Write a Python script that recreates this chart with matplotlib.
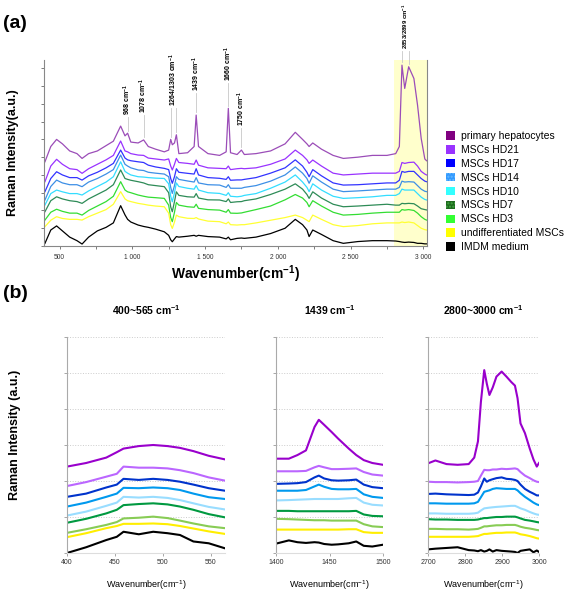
import matplotlib
matplotlib.use('Agg')
import matplotlib.pyplot as plt
from matplotlib.patches import Patch

plt.rcParams['font.family'] = ['Liberation Sans', 'DejaVu Sans']
plt.rcParams['mathtext.fontset'] = 'custom'
plt.rcParams['mathtext.rm'] = 'Liberation Sans'
plt.rcParams['mathtext.it'] = 'Liberation Sans:italic'
plt.rcParams['mathtext.bf'] = 'Liberation Sans:bold'

# ---------------- data ----------------
SAMPLES = ['primary hepatocytes', 'MSCs HD21', 'MSCs HD17', 'MSCs HD14', 'MSCs HD10',
           'MSCs HD7', 'MSCs HD3', 'undifferentiated MSCs', 'IMDM medium']

# panel (a): full spectra, stacked (arbitrary units)
WN_A = [400, 440, 480, 520, 570, 620, 655, 700, 760, 820, 870, 920, 950, 968, 990, 1040, 1078,
        1110, 1160, 1220, 1250, 1264, 1275, 1290, 1303, 1320, 1380, 1425, 1439, 1455, 1520, 1600,
        1645, 1660, 1675, 1720, 1750, 1770, 1850, 1950, 2050, 2120, 2170, 2200, 2215, 2240, 2300,
        2380, 2450, 2550, 2650, 2750, 2810, 2835, 2853, 2872, 2899, 2935, 2960, 2985, 3010, 3022]

hep_a = [4.74, 5.6, 6.0, 5.75, 5.35, 5.2, 4.93, 5.2, 5.35, 5.65, 5.9, 6.75, 6.2, 6.35, 5.85, 5.8, 5.97,
         5.6, 5.45, 5.3, 5.4, 6.0, 5.7, 5.8, 6.26, 5.2, 5.25, 5.6, 7.37, 5.6, 5.2, 5.1,
         5.3, 7.75, 5.25, 5.15, 5.4, 5.15, 5.2, 5.35, 5.75, 6.4, 6.0, 5.75, 5.6, 5.8, 5.45,
         5.1, 4.93, 5.0, 5.1, 5.1, 5.2, 5.6, 10.18, 8.87, 10.09, 9.43, 7.93, 6.06, 4.9, 4.8]
hd21_a = [3.62, 4.5, 4.88, 4.6, 4.35, 4.3, 4.09, 4.35, 4.6, 4.85, 5.1, 5.91, 5.35, 5.3, 5.2, 5.12, 5.1,
          4.95, 4.9, 4.84, 4.9, 4.5, 4.28, 4.6, 4.93, 4.7, 4.65, 4.6, 4.84, 4.55, 4.4, 4.37,
          4.35, 4.5, 4.3, 4.35, 4.37, 4.35, 4.4, 4.6, 4.9, 5.4, 5.1, 4.85, 4.65, 4.84, 4.5,
          4.1, 4.0, 4.05, 4.1, 4.1, 4.1, 4.2, 4.7, 4.65, 4.7, 4.72, 4.5, 4.2, 4.05, 4.0]
hd17_a = [3.06, 3.8, 4.18, 4.0, 3.85, 3.85, 3.71, 3.95, 4.15, 4.4, 4.65, 5.4, 4.95, 4.85, 4.8, 4.74, 4.7,
          4.55, 4.45, 4.37, 4.3, 3.8, 3.53, 3.9, 4.35, 4.15, 4.09, 4.05, 4.35, 4.0, 3.85, 3.81,
          3.75, 3.9, 3.7, 3.72, 3.72, 3.75, 3.85, 4.1, 4.4, 4.85, 4.5, 4.15, 3.9, 4.3, 3.95,
          3.55, 3.43, 3.45, 3.5, 3.55, 3.55, 3.7, 4.2, 4.15, 4.2, 4.2, 4.0, 3.8, 3.65, 3.62]
hd14_a = [2.59, 3.35, 3.71, 3.55, 3.45, 3.45, 3.34, 3.6, 3.8, 4.05, 4.3, 5.12, 4.6, 4.5, 4.4, 4.28, 4.25,
          4.15, 4.1, 4.05, 3.9, 3.3, 2.96, 3.4, 3.9, 3.75, 3.66, 3.6, 3.85, 3.55, 3.45, 3.43,
          3.3, 3.45, 3.25, 3.25, 3.25, 3.3, 3.4, 3.65, 4.0, 4.45, 4.1, 3.8, 3.53, 3.95, 3.6,
          3.2, 3.06, 3.1, 3.15, 3.2, 3.2, 3.3, 3.65, 3.6, 3.62, 3.6, 3.4, 3.2, 3.08, 3.06]
hd10_a = [2.31, 2.95, 3.15, 3.05, 2.95, 2.95, 2.87, 3.1, 3.35, 3.6, 3.9, 4.74, 4.2, 4.1, 4.0, 3.9, 3.88,
          3.85, 3.82, 3.8, 3.5, 2.8, 2.49, 3.0, 3.55, 3.35, 3.25, 3.2, 3.4, 3.15, 3.0, 2.96,
          2.85, 3.0, 2.8, 2.77, 2.8, 2.85, 2.95, 3.25, 3.6, 4.0, 3.6, 3.3, 3.06, 3.5, 3.15,
          2.8, 2.68, 2.72, 2.77, 2.85, 2.85, 2.95, 3.2, 3.15, 3.15, 3.15, 2.95, 2.75, 2.62, 2.59]
hd7_a = [1.93, 2.55, 2.77, 2.65, 2.55, 2.5, 2.4, 2.65, 2.9, 3.15, 3.45, 4.28, 3.8, 3.75, 3.7, 3.62, 3.55,
         3.45, 3.4, 3.34, 3.0, 2.2, 1.93, 2.5, 3.05, 2.85, 2.77, 2.75, 2.95, 2.7, 2.6, 2.59,
         2.5, 2.65, 2.45, 2.49, 2.5, 2.55, 2.65, 2.9, 3.2, 3.5, 3.2, 2.9, 2.68, 3.05, 2.7,
         2.35, 2.21, 2.25, 2.3, 2.35, 2.3, 2.3, 2.4, 2.38, 2.4, 2.38, 2.25, 2.1, 2.05, 2.03]
hd3_a = [1.46, 1.9, 2.07, 1.95, 1.85, 1.85, 1.74, 2.0, 2.25, 2.5, 2.8, 3.62, 3.15, 3.05, 3.0, 2.87, 2.8,
         2.75, 2.72, 2.68, 2.3, 1.6, 1.37, 1.9, 2.45, 2.3, 2.21, 2.18, 2.35, 2.12, 2.05, 2.02,
         1.9, 2.05, 1.85, 1.84, 1.86, 1.9, 2.05, 2.25, 2.6, 2.9, 2.7, 2.45, 2.21, 2.55, 2.25,
         1.9, 1.74, 1.78, 1.85, 1.9, 1.9, 1.9, 2.05, 2.02, 2.05, 2.0, 1.85, 1.65, 1.5, 1.46]
undiff_a = [1.09, 1.45, 1.65, 1.55, 1.5, 1.5, 1.46, 1.65, 1.85, 2.05, 2.35, 3.06, 2.65, 2.55, 2.5, 2.4, 2.35,
            2.3, 2.25, 2.21, 1.85, 1.2, 0.99, 1.35, 1.74, 1.65, 1.56, 1.55, 1.6, 1.52, 1.4, 1.37,
            1.25, 1.35, 1.2, 1.18, 1.2, 1.2, 1.3, 1.45, 1.6, 1.74, 1.6, 1.45, 1.37, 1.74, 1.5,
            1.2, 1.09, 1.15, 1.25, 1.3, 1.3, 1.3, 1.35, 1.32, 1.35, 1.3, 1.15, 1.0, 0.92, 0.9]
imdm_a = [0.15, 0.9, 1.13, 0.85, 0.5, 0.3, 0.11, 0.5, 0.85, 1.05, 1.3, 2.27, 1.75, 1.5, 1.35, 1.18, 1.1,
          1.05, 0.95, 0.8, 0.6, 0.35, 0.24, 0.4, 0.53, 0.5, 0.55, 0.6, 0.55, 0.6, 0.53, 0.5,
          0.4, 0.5, 0.35, 0.43, 0.45, 0.43, 0.5, 0.7, 1.0, 1.5, 1.2, 0.9, 0.53, 0.9, 0.65,
          0.3, 0.15, 0.25, 0.3, 0.3, 0.28, 0.25, 0.22, 0.2, 0.22, 0.2, 0.15, 0.15, 0.12, 0.12]

SPECTRA_A = [hep_a, hd21_a, hd17_a, hd14_a, hd10_a, hd7_a, hd3_a, undiff_a, imdm_a]

PEAK_TEXT = ['968', '1078', '1264/1303', '1439', '1660', '1750', '2853/2899']
PEAK_WN = [[968], [1078], [1264, 1303], [1439], [1660], [1750], [2853, 2899]]

XTICKS_A = [500, 1000, 1500, 2000, 2500, 3000]
XTICKLABELS_A = ['500', '1 000', '1 500', '2 000', '2 500', '3 000']

# panel (b): zoomed windows
WN_B1 = [400, 420, 441, 452, 459, 475, 490, 505, 518, 532, 548, 565]
b1 = [
    [2.40, 2.5, 2.65, 2.8, 2.9, 2.97, 3.0, 2.97, 2.92, 2.83, 2.7, 2.6],
    [1.86, 1.97, 2.12, 2.2, 2.4, 2.37, 2.37, 2.35, 2.3, 2.22, 2.1, 2.01],
    [1.56, 1.65, 1.82, 1.9, 2.06, 2.03, 2.06, 2.03, 1.98, 1.9, 1.8, 1.73],
    [1.29, 1.4, 1.56, 1.65, 1.81, 1.8, 1.82, 1.8, 1.75, 1.65, 1.55, 1.5],
    [1.04, 1.15, 1.31, 1.4, 1.56, 1.54, 1.56, 1.53, 1.47, 1.38, 1.28, 1.21],
    [0.84, 0.95, 1.1, 1.2, 1.33, 1.36, 1.38, 1.35, 1.29, 1.2, 1.08, 0.99],
    [0.56, 0.66, 0.78, 0.86, 0.96, 0.98, 1.01, 0.97, 0.9, 0.82, 0.74, 0.69],
    [0.44, 0.55, 0.69, 0.75, 0.81, 0.81, 0.82, 0.8, 0.75, 0.68, 0.6, 0.53],
    [0.0, 0.16, 0.36, 0.45, 0.59, 0.52, 0.59, 0.55, 0.5, 0.32, 0.27, 0.13],
]

WN_B2 = [1400, 1412, 1420, 1428, 1436, 1440, 1445, 1452, 1458, 1468, 1475, 1482, 1490, 1500]
b2 = [
    [2.62, 2.62, 2.72, 2.85, 3.5, 3.7, 3.56, 3.36, 3.18, 2.9, 2.72, 2.58, 2.5, 2.45],
    [2.27, 2.27, 2.27, 2.28, 2.38, 2.42, 2.38, 2.33, 2.33, 2.34, 2.35, 2.25, 2.18, 2.15],
    [1.92, 1.93, 1.94, 1.97, 2.1, 2.15, 2.07, 2.02, 2.01, 2.02, 2.04, 1.9, 1.83, 1.8],
    [1.73, 1.73, 1.73, 1.75, 1.85, 1.9, 1.84, 1.78, 1.77, 1.77, 1.78, 1.63, 1.56, 1.53],
    [1.46, 1.47, 1.48, 1.49, 1.5, 1.5, 1.5, 1.5, 1.5, 1.52, 1.53, 1.4, 1.34, 1.32],
    [1.17, 1.17, 1.16, 1.16, 1.16, 1.16, 1.16, 1.16, 1.16, 1.16, 1.17, 1.07, 1.03, 1.02],
    [0.95, 0.94, 0.93, 0.92, 0.91, 0.91, 0.91, 0.9, 0.9, 0.9, 0.9, 0.8, 0.74, 0.72],
    [0.65, 0.65, 0.65, 0.65, 0.65, 0.65, 0.65, 0.65, 0.65, 0.66, 0.66, 0.58, 0.56, 0.56],
    [0.26, 0.35, 0.3, 0.28, 0.3, 0.29, 0.25, 0.23, 0.24, 0.27, 0.32, 0.2, 0.18, 0.23],
]

WN_B3 = [2700, 2720, 2750, 2780, 2810, 2825, 2835, 2843, 2852, 2859, 2866, 2875, 2885, 2899, 2912,
         2925, 2935, 2942, 2950, 2962, 2975, 2985, 2994, 3000]
b3 = [
    [2.49, 2.57, 2.47, 2.45, 2.47, 2.65, 3.1, 4.2, 5.08, 4.7, 4.39, 4.6, 4.9, 5.04, 4.9,
     4.75, 4.65, 4.3, 3.6, 3.33, 2.9, 2.6, 2.4, 2.5],
    [1.98, 1.97, 1.97, 1.96, 1.97, 1.98, 2.0, 2.15, 2.31, 2.3, 2.3, 2.32, 2.32, 2.34, 2.33,
     2.34, 2.35, 2.33, 2.25, 2.15, 2.08, 2.02, 1.98, 1.97],
    [1.64, 1.65, 1.63, 1.62, 1.61, 1.62, 1.68, 1.85, 2.07, 1.98, 2.02, 2.05, 2.08, 2.1, 2.06,
     2.05, 2.03, 2.0, 1.9, 1.78, 1.7, 1.65, 1.6, 1.6],
    [1.38, 1.38, 1.37, 1.37, 1.37, 1.38, 1.42, 1.55, 1.7, 1.72, 1.74, 1.78, 1.8, 1.79, 1.78,
     1.78, 1.78, 1.74, 1.66, 1.56, 1.47, 1.4, 1.35, 1.33],
    [1.1, 1.1, 1.09, 1.09, 1.09, 1.1, 1.12, 1.18, 1.24, 1.25, 1.26, 1.27, 1.28, 1.29, 1.3,
     1.31, 1.31, 1.28, 1.24, 1.2, 1.14, 1.1, 1.07, 1.06],
    [0.94, 0.93, 0.93, 0.92, 0.92, 0.92, 0.93, 0.95, 0.97, 0.97, 0.98, 0.99, 1.0, 1.0, 1.01,
     1.01, 1.01, 0.99, 0.96, 0.92, 0.9, 0.88, 0.86, 0.85],
    [0.67, 0.67, 0.66, 0.66, 0.65, 0.66, 0.67, 0.7, 0.74, 0.74, 0.75, 0.76, 0.77, 0.77, 0.78,
     0.78, 0.78, 0.76, 0.73, 0.7, 0.68, 0.66, 0.64, 0.63],
    [0.45, 0.45, 0.45, 0.45, 0.45, 0.46, 0.47, 0.5, 0.53, 0.53, 0.54, 0.55, 0.56, 0.56, 0.57,
     0.57, 0.57, 0.55, 0.52, 0.5, 0.47, 0.44, 0.41, 0.4],
    [0.1, 0.12, 0.14, 0.16, 0.08, 0.07, 0.05, 0.08, 0.04, 0.06, 0.1, 0.04, 0.08, 0.06, 0.05,
     0.04, 0.03, 0.0, 0.06, 0.08, 0.1, 0.02, 0.07, 0.03],
]

WINDOW_TITLES = ['400~565', '1439', '2800~3000']
WINDOW_XLIM = [(400, 565), (1400, 1500), (2700, 3000)]
WINDOW_XTICKS = [[400, 450, 500, 550], [1400, 1450, 1500], [2700, 2800, 2900, 3000]]

# ---------------- style ----------------
COLORS_A = ['#9b4db8', '#9933ff', '#3333ff', '#3d8fe6', '#33ddff', '#2e8b57', '#33dd33', '#ffff33', '#000000']
LEGEND_COLORS = ['#800080', '#9933ff', '#0000ff', '#3399ff', '#33ffff', '#1e6b1e', '#33ff33', '#ffff00', '#000000']
COLORS_B = ['#9900cc', '#bb66ff', '#0033cc', '#0099ee', '#99ddff', '#009940', '#88cc55', '#ffee00', '#000000']
LABEL_TOP = [7.26, 7.37, 7.77, 8.6, 9.17, 6.64, 11.0]
LABEL_SIZE = [5, 5, 5, 5, 5, 5, 4.3]
CM = r' cm$^{\mathbf{-1}}$'

W, H = 567, 591
fig = plt.figure(figsize=(W / 100, H / 100), dpi=100)


def box(x0, y0, x1, y1):
    return [x0 / W, 1 - y1 / H, (x1 - x0) / W, (y1 - y0) / H]


# ---------------- panel (a) ----------------
ax = fig.add_axes(box(43.5, 60, 427, 246))
ax.axvspan(2800, 3025, color='#ffffcc', zorder=0, lw=0)
for vals, c in zip(SPECTRA_A, COLORS_A):
    ax.plot(WN_A, vals, color=c, lw=0.9, zorder=2)

hep = dict(zip(WN_A, hep_a))
for txt, wns, top, fs in zip(PEAK_TEXT, PEAK_WN, LABEL_TOP, LABEL_SIZE):
    for wn in wns:
        ax.plot([wn, wn], [hep[wn] + 0.15, top], color='#c8c8c8', lw=0.6, zorder=1, clip_on=False)
    xm = sum(wns) / len(wns)
    ax.text(xm, top + 0.1, txt + CM, rotation=90, ha='center', va='bottom', fontsize=fs,
            fontweight='bold', clip_on=False)

ax.set_xlim(390, 3025)
ax.set_ylim(0, 10.47)
ax.set_xticks(XTICKS_A)
ax.set_xticklabels(XTICKLABELS_A, fontsize=4.8, color='#333333')
ax.set_xticks([750, 1250, 1750, 2250, 2750], minor=True)
ax.set_yticks(range(11))
ax.set_yticklabels([])
ax.tick_params(axis='both', which='both', length=2.5, width=0.6, color='#666666', pad=3)
ax.spines['top'].set_visible(False)
for s in ['left', 'bottom', 'right']:
    ax.spines[s].set_color('#888888')
    ax.spines[s].set_linewidth(0.8)
ax.set_xlabel('Wavenumber(cm$^{\\mathbf{-1}}$)', fontsize=10, fontweight='bold', labelpad=2)
ax.set_ylabel('Raman Intensity(a.u.)', fontsize=9, fontweight='bold', labelpad=12)

handles = []
for name, c in zip(SAMPLES, LEGEND_COLORS):
    if name == 'MSCs HD14':
        handles.append(Patch(facecolor=c, edgecolor='#66bbff', hatch='.....', lw=0))
    elif name == 'MSCs HD7':
        handles.append(Patch(facecolor=c, edgecolor='#44aa44', hatch='.....', lw=0))
    else:
        handles.append(Patch(facecolor=c, edgecolor='none'))
fig.legend(handles, SAMPLES, loc='upper left', bbox_to_anchor=(441 / W, 1 - 126 / H),
           frameon=False, fontsize=7.5, handlelength=0.85, handleheight=0.85,
           handletextpad=0.6, labelspacing=0.37, borderpad=0)

fig.text(3 / W, 1 - 23 / H, '(a)', fontsize=14, fontweight='bold', va='center')
fig.text(3 / W, 1 - 293 / H, '(b)', fontsize=14, fontweight='bold', va='center')

# ---------------- panel (b) ----------------
boxes_b = [box(67, 337, 225, 553), box(276, 337, 383, 553), box(428, 337, 539, 553)]
for k, (wns, spectra) in enumerate([(WN_B1, b1), (WN_B2, b2), (WN_B3, b3)]):
    bx = fig.add_axes(boxes_b[k])
    for vals, c in zip(spectra, COLORS_B):
        bx.plot(wns, vals, color=c, lw=1.5)
    bx.set_xlim(*WINDOW_XLIM[k])
    bx.set_ylim(0, 6)
    bx.set_xticks(WINDOW_XTICKS[k])
    bx.set_xticklabels([str(t) for t in WINDOW_XTICKS[k]], fontsize=5, color='#333333')
    bx.set_yticks(range(7))
    bx.set_yticklabels([])
    bx.yaxis.grid(True, ls=':', color='#cccccc', lw=0.7)
    bx.tick_params(axis='both', length=2, width=0.6, color='#999999', pad=2)
    bx.spines['top'].set_visible(False)
    bx.spines['right'].set_visible(False)
    bx.spines['left'].set_color('#aaaaaa')
    bx.spines['bottom'].set_color('#dddddd')
    bx.set_xlabel('Wavenumber(cm$^{-1}$)', fontsize=6.5, labelpad=9)
    bx.set_title(WINDOW_TITLES[k] + CM, fontsize=7.5, fontweight='bold', pad=16)

fig.text(15 / W, 1 - 435 / H, 'Raman Intensity (a.u.)', rotation=90, fontsize=9,
         fontweight='bold', ha='center', va='center')

fig.savefig('out.png', dpi=100)
